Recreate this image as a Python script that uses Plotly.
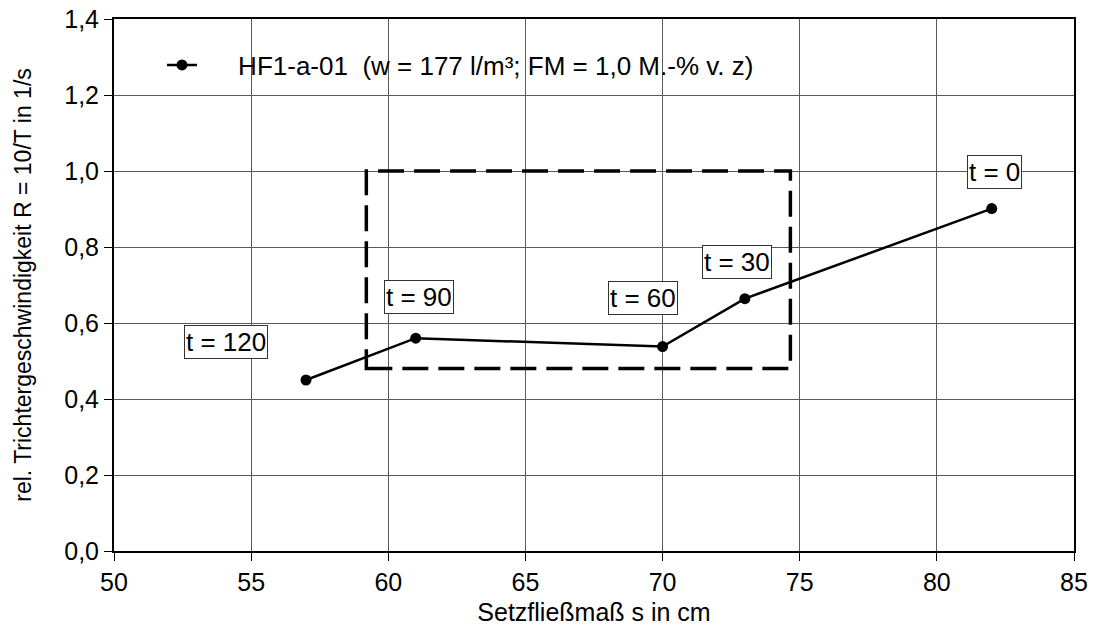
import plotly.graph_objects as go

# ---- data ----
setzfliessmass = [57, 61, 70, 73, 82]          # x: Setzfließmaß s in cm
rate = [0.450, 0.560, 0.538, 0.664, 0.901]      # y: R = 10/T in 1/s
series_name = "HF1-a-01\u00a0 (w = 177 l/m³; FM = 1,0 M.-% v. z)"

label_texts = ["t = 120", "t = 90", "t = 60", "t = 30", "t = 0"]
label_x = [54.1, 61.13, 69.3, 72.72, 82.09]
label_y = [0.549, 0.668, 0.665, 0.760, 0.998]

box_x = [59.2, 74.66]
box_y = [0.48, 1.0]

x_ticks = [50, 55, 60, 65, 70, 75, 80, 85]
y_ticks = [0.0, 0.2, 0.4, 0.6, 0.8, 1.0, 1.2, 1.4]

FONT = "Liberation Sans, Arial, sans-serif"

fig = go.Figure()
fig.add_trace(go.Scatter(
    x=setzfliessmass, y=rate, mode="lines+markers",
    name="\u00a0" * 5 + series_name,
    line=dict(color="black", width=2.5),
    marker=dict(color="black", size=11),
))

# white legend background covering the grid
fig.add_shape(type="rect", xref="paper", yref="paper",
              x0=(133 - 114) / 960, x1=(850 - 114) / 960,
              y0=(551 - 101) / 532, y1=(551 - 33) / 532,
              fillcolor="white", line=dict(width=0), layer="between")

# dashed rectangle
fig.add_shape(type="rect", x0=box_x[0], x1=box_x[1], y0=box_y[0], y1=box_y[1],
              line=dict(color="black", width=3.5, dash="26px,10px"),
              fillcolor="rgba(0,0,0,0)", layer="above")

for t, lx, ly in zip(label_texts, label_x, label_y):
    fig.add_annotation(x=lx, y=ly, text=t, showarrow=False,
                       font=dict(family=FONT, size=26, color="black"),
                       bgcolor="white", bordercolor="#333333", borderwidth=1,
                       borderpad=1)

axis_common = dict(
    showline=True, linecolor="black", linewidth=2, mirror=True,
    ticks="outside", ticklen=8, tickwidth=1, tickcolor="black",
    showgrid=True, gridcolor="#5a5a5a", gridwidth=1,
    zeroline=False, automargin=False, ticklabeloverflow="allow",
    tickfont=dict(family=FONT, size=25, color="black"),
)

fig.update_xaxes(range=[50, 85], tickvals=x_ticks, **axis_common,
                 title=dict(text="Setzfließmaß s in cm",
                            font=dict(family=FONT, size=25, color="black"),
                            standoff=8))
fig.update_yaxes(range=[0, 1.4], tickvals=y_ticks, tickformat=".1f", **axis_common,
                 title=dict(text="rel. Trichtergeschwindigkeit R = 10/T in 1/s",
                            font=dict(family=FONT, size=23, color="black"),
                            standoff=26))

fig.update_layout(
    width=1093, height=637,
    margin=dict(l=114, r=19, t=19, b=86),
    paper_bgcolor="white", plot_bgcolor="white",
    separators=", ",
    showlegend=True,
    legend=dict(x=(162 - 114) / 960, y=(551 - 65) / 532, xanchor="left", yanchor="middle",
                bgcolor="rgba(0,0,0,0)", borderwidth=0,
                font=dict(family=FONT, size=26, color="black")),
    font=dict(family=FONT, color="black"),
)

# remove the default 8px page margin so the figure fills the window exactly
fig.write_html("out.html",
               config={"displayModeBar": False},
               post_script="document.body.style.margin='0';document.body.style.overflow='hidden';")
